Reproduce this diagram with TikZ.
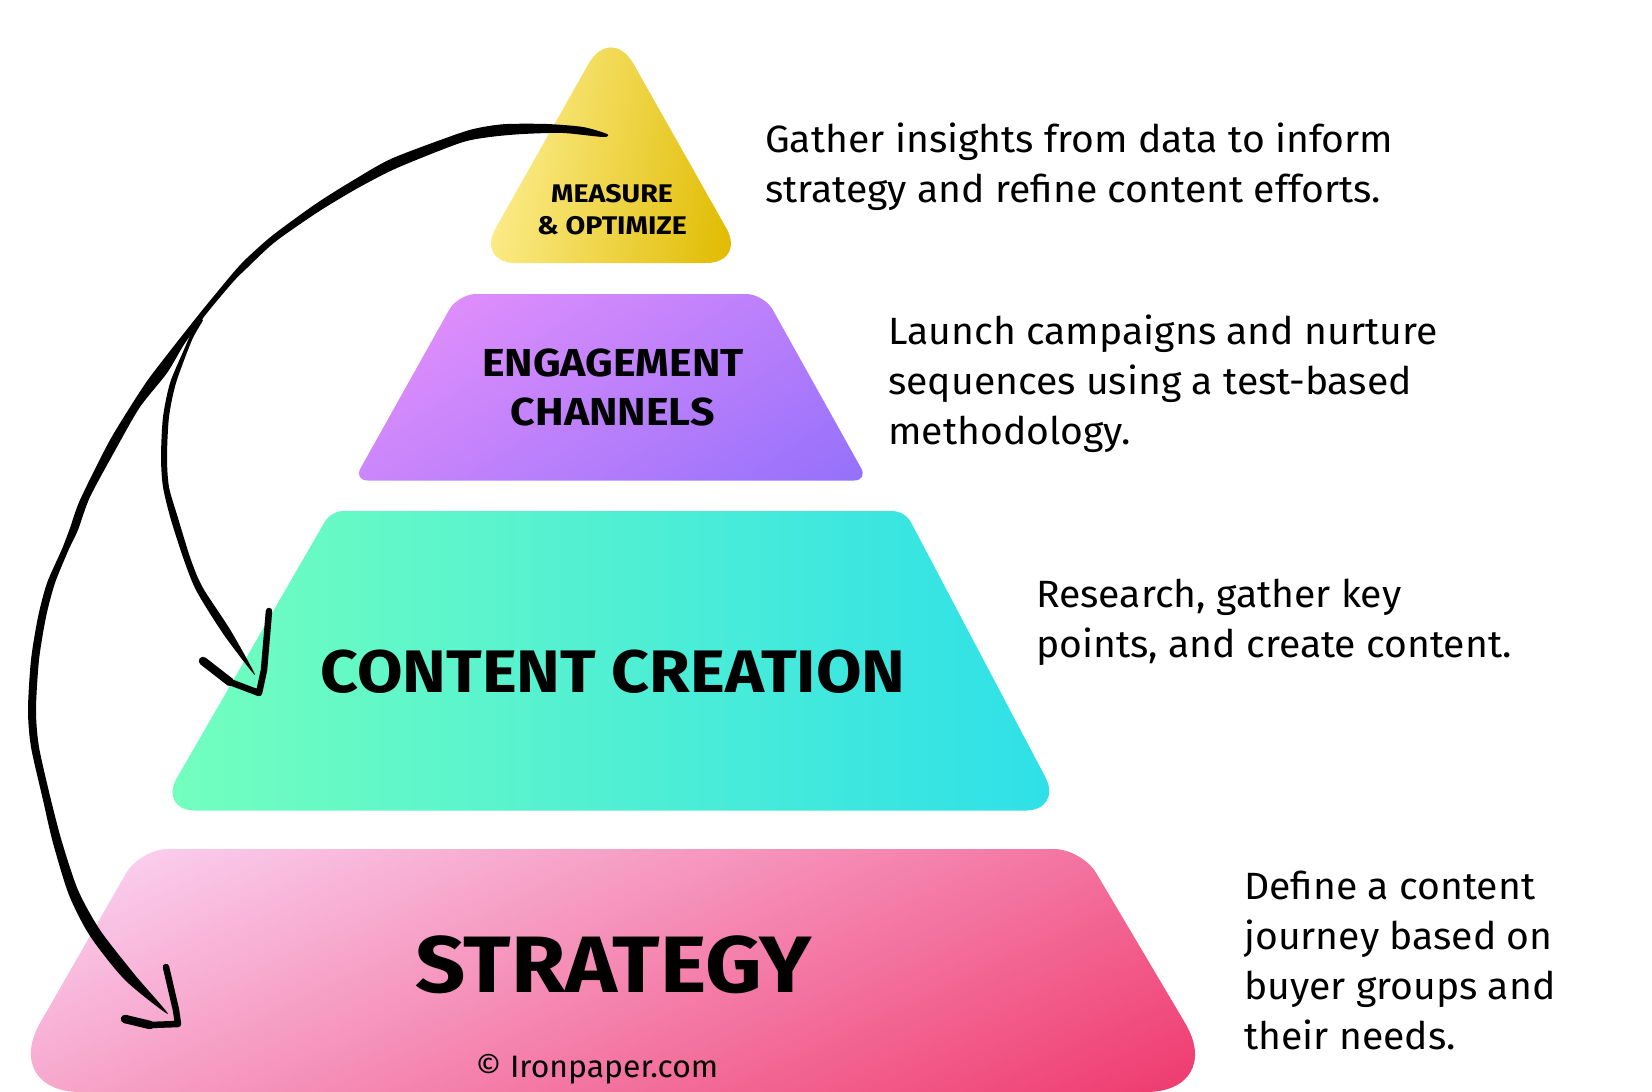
\documentclass[tikz,border=0pt]{standalone}
\usepackage{fontspec}
\setmainfont{Fira Sans}[FakeStretch=1.03]
\newfontfamily\headfont{Fira Sans}[FakeStretch=1.10,UprightFont=* Bold]
\newfontfamily\smallheadfont{Fira Sans}[FakeStretch=1.12,UprightFont=* Bold]
\definecolor{yelA}{HTML}{FDEE8F}\definecolor{yelB}{HTML}{E0BB00}
\definecolor{purA}{HTML}{DF8EFB}\definecolor{purB}{HTML}{9470FB}
\definecolor{grnA}{HTML}{73FFBE}\definecolor{grnB}{HTML}{2EE0E8}
\definecolor{pnkA}{HTML}{FACFEF}\definecolor{pnkB}{HTML}{EF3A6E}
% tier: path; colour A; colour B; centre x; centre y; angle; half length
\newcommand{\tierfill}[7]{%
  \begin{scope}
    \clip #1;
    \shade[left color=#2,right color=#3,transform canvas={shift={(#4,#5)},rotate=#6}]
      (-#7,-1400) rectangle (#7,1400);
  \end{scope}}
\tikzset{
  body/.style={anchor=base west,inner sep=0pt,font=\fontsize{38}{38}\selectfont},
  head/.style={anchor=base,inner sep=0pt,text=black},
  sketch/.style={draw=black,line width=6.5pt,line cap=round,line join=round},
  sketchfill/.style={fill=black,draw=none},
}
\begin{document}
\begin{tikzpicture}[x=1pt,y=-1pt]
\useasboundingbox (0,0) rectangle (1652,1092);
% tiers
\tierfill{(611,263) [rounded corners=40pt] -- (476,263) [rounded corners=46pt] -- (611,24) [rounded corners=40pt] -- (746,263) -- cycle}{yelA}{yelB}{612}{200}{-10}{128}
\tierfill{(611,480.5) [rounded corners=14pt] -- (353.7,480.5) [rounded corners=18pt] -- (458,294) -- (764,294) [rounded corners=14pt] -- (868,480.5) -- cycle}{purA}{purB}{653}{393}{-57}{190}
\tierfill{(611,810.6) [rounded corners=38pt] -- (158,810.6) [rounded corners=12pt] -- (331,511) -- (905,511) [rounded corners=38pt] -- (1063,810.6) -- cycle}{grnA}{grnB}{611}{660}{0}{445}
\tierfill{(611,1092) [rounded corners=80pt] -- (0.4,1092) [rounded corners=28pt] -- (140,849) -- (1082,849) [rounded corners=80pt] -- (1226,1092) -- cycle}{pnkA}{pnkB}{659}{970}{-65}{335}
% tier labels
\node[head,font=\smallheadfont\fontsize{25.5}{25.5}\selectfont] (m1) at (612,202) {MEASURE};
\node[head,font=\smallheadfont\fontsize{25.5}{25.5}\selectfont] (m2) at (612,234) {\&\ OPTIMIZE};
\node[head,font=\headfont\fontsize{39}{39}\selectfont] (e1) at (613,376) {ENGAGEMENT};
\node[head,font=\headfont\fontsize{39}{39}\selectfont] (e2) at (613,425.5) {CHANNELS};
\node[head,font=\headfont\fontsize{60}{60}\selectfont] (c1) at (613,692) {CONTENT CREATION};
\node[head,font=\headfont\fontsize{80}{80}\selectfont] (s1) at (613.5,992) {STRATEGY};
\node[anchor=base,inner sep=0pt,font=\fontsize{31}{31}\selectfont] (cr) at (597,1077) {© Ironpaper.com};
% descriptions
\node[body] (g1) at (765,152) {Gather insights from data to inform};
\node[body] (g2) at (765,202) {strategy and refine content efforts.};
\node[body] (l1) at (888,344) {Launch campaigns and nurture};
\node[body] (l2) at (888,394) {sequences using a test-based};
\node[body] (l3) at (888,444) {methodology.};
\node[body] (r1) at (1036,607.5) {Research, gather key};
\node[body] (r2) at (1036,657) {points, and create content.};
\node[body] (d1) at (1244,899.5) {Define a content};
\node[body] (d2) at (1244,949.5) {journey based on};
\node[body] (d3) at (1244,999.5) {buyer groups and};
\node[body] (d4) at (1244,1049.5) {their needs.};
% arrows
\coordinate (src) at (607,134);
\coordinate (endS) at (168,1014);
\coordinate (endC) at (255,675);
\coordinate (tipC) at (259,693);
\coordinate (tipS) at (178,1024);
% long stroke, drawn as a filled outline of varying width
\fill[sketchfill] plot[smooth cycle,tension=0.45] coordinates {(src) (583,127) (547,124) (507,124) (483,127) (460,133) (393,158) (357,178) (317,203) (273,235) (247,258) (233,273) (200,313) (163,360) (143,387) (110,440) (80,500) (70,528) (62,549) (47,583) (38,617) (31,660) (28,710) (31,747) (43,800) (53,843) (69,895) (90,936) (125,980) (endS) (135,975) (100,930) (78,890) (62,842) (51,800) (39,747) (36,710) (39,660) (46,617) (55,583) (69,549) (78,530) (90,497) (117,447) (140,407) (167,373) (185,343) (207,313) (233,282) (247,268) (275,242) (318,212) (358,188) (397,168) (460,143) (490,137) (523,134) (563,133) (603,137)};
% short stroke
\fill[sketchfill] plot[smooth cycle,tension=0.45] coordinates {(195,325) (183,352) (170,383) (163,417) (161,457) (163,487) (171,520) (185,563) (197,592) (224,635) (endC) (231,631) (203,588) (191,560) (178,518) (169,487) (167,457) (169,417) (176,383) (192,340) (203,320)};
% arrow heads
\draw[sketch] (269,611) -- (264,670) -- (tipC) -- (230,682);
\draw[sketch,line width=8.5pt] (230,682) -- (203,661);
\draw[sketch] (166,967) -- (176,1010) -- (tipS) -- (150,1025);
\draw[sketch,line width=8.5pt] (150,1025) -- (125,1019);
\end{tikzpicture}
\end{document}
